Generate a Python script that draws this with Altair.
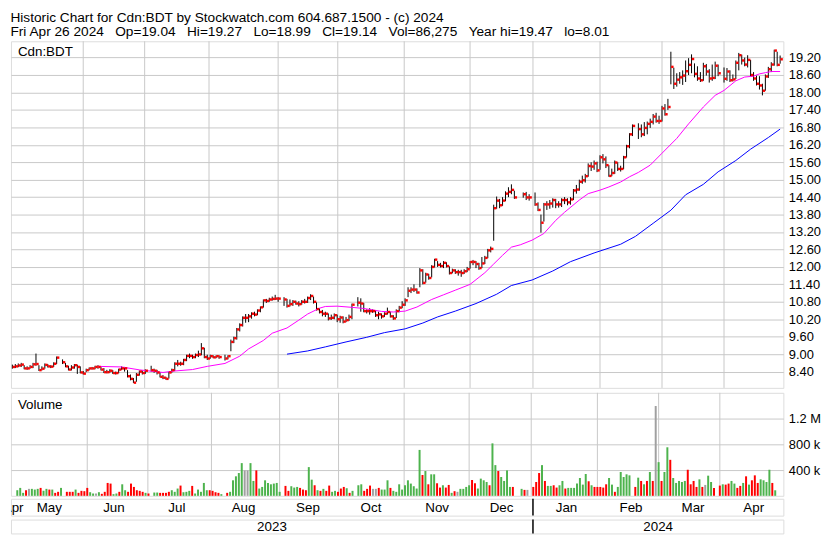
import altair as alt
import pandas as pd

FONT = "Liberation Sans"
GRID = "#C8C8C8"
GREEN, RED, GRAY = "#4DB34D", "#FF0000", "#A0A0A0"

# ---------------- calendar (weekday axis, TSX holidays leave gaps) ----------------
FIRST_DAY, LAST_DAY = "2023-04-28", "2024-04-26"
HOLIDAYS = ["2023-05-22", "2023-07-03", "2023-08-07", "2023-09-04", "2023-10-09",
            "2023-12-25", "2023-12-26", "2024-01-01", "2024-02-19", "2024-03-29"]

# ---------------- daily prices (one line per month) ----------------
close = [
    8.56, 8.58, 8.61, 8.64, 8.51, 8.51, 8.56, 8.65, 8.66, 8.45, 8.50, 8.63, 8.58, 8.57, 8.67, 8.88, 8.72, 8.58, 8.47, 8.54, 8.62, 8.56, 8.37,
    8.33, 8.45, 8.51, 8.51, 8.56, 8.56, 8.47, 8.38, 8.38, 8.43, 8.35, 8.35, 8.47, 8.51, 8.51, 8.24, 8.15, 8.02, 8.29, 8.40, 8.35, 8.43,
    8.45, 8.43, 8.37, 8.22, 8.19, 8.15, 8.37, 8.45, 8.67, 8.67, 8.67, 8.80, 8.94, 8.94, 8.90, 8.97, 8.99, 9.20, 8.90, 8.85,
    8.93, 8.89, 8.93, 8.90, 8.85, 8.93, 9.42, 9.55, 9.85, 10.00, 10.25, 10.25, 10.30, 10.39, 10.36, 10.50, 10.61, 10.85, 10.83, 10.88, 10.90, 10.91,
    10.91, 10.88, 10.66, 10.72, 10.80, 10.74, 10.72, 10.80, 10.80, 10.93, 11.00, 10.80, 10.55, 10.45, 10.39, 10.39, 10.23, 10.25, 10.34, 10.20,
    10.26, 10.12, 10.17, 10.28, 10.70, 10.77, 10.74, 10.48, 10.48, 10.48, 10.48, 10.34, 10.37, 10.30, 10.39, 10.45, 10.30, 10.23, 10.48, 10.60, 10.70,
    10.85, 11.18, 11.22, 11.22, 11.12, 11.88, 11.45, 11.74, 11.62, 12.00, 12.25, 12.07, 12.03, 12.14, 12.03, 11.79, 11.88, 11.82, 11.82, 11.79, 11.85, 11.92,
    12.17, 12.17, 12.10, 11.96, 12.12, 12.31, 12.57, 12.62, 14.02, 14.28, 14.12, 14.28, 14.52, 14.58, 14.65, 14.39, 14.50, 14.39, 14.39,
    14.15, 13.96, 13.52, 14.15, 14.15, 14.18, 14.30, 14.15, 14.15, 14.30, 14.30, 14.22, 14.32, 14.63, 14.66, 14.93, 14.98, 15.12, 15.47, 15.45, 15.56, 15.32,
    15.77, 15.70, 15.50, 15.13, 15.23, 15.59, 15.37, 15.37, 15.77, 16.15, 16.56, 16.85, 16.74, 16.56, 16.78, 16.92, 16.99, 17.17, 17.02, 17.02,
    17.45, 17.25, 17.50, 18.88, 18.30, 18.44, 18.52, 18.58, 18.73, 18.95, 19.15, 18.64, 18.48, 18.42, 18.90, 18.72, 18.48, 18.50, 18.92, 18.66,
    18.47, 18.72, 18.42, 18.45, 19.02, 19.28, 19.10, 18.96, 19.12, 18.60, 18.48, 18.30, 18.24, 18.06, 18.55, 18.80, 18.96, 19.44, 18.95, 19.14,
]
high = [
    8.64, 8.66, 8.68, 8.70, 8.62, 8.58, 8.62, 8.70, 9.02, 8.62, 8.58, 8.68, 8.66, 8.62, 8.72, 8.92, 8.82, 8.70, 8.60, 8.62, 8.66, 8.64, 8.58,
    8.42, 8.50, 8.54, 8.56, 8.60, 8.62, 8.58, 8.52, 8.46, 8.48, 8.45, 8.40, 8.50, 8.58, 8.56, 8.45, 8.30, 8.18, 8.35, 8.44, 8.44, 8.48,
    8.60, 8.50, 8.46, 8.38, 8.28, 8.22, 8.40, 8.50, 8.72, 8.80, 8.74, 8.84, 8.98, 9.02, 8.98, 9.02, 9.12, 9.38, 9.22, 8.98,
    8.98, 8.96, 8.96, 8.96, 8.98, 8.96, 9.50, 9.60, 9.90, 10.06, 10.30, 10.38, 10.38, 10.44, 10.46, 10.54, 10.64, 10.88, 10.90, 10.94, 10.98, 11.04,
    10.96, 10.96, 10.90, 10.88, 10.86, 10.84, 10.82, 10.86, 10.90, 10.98, 11.06, 10.98, 10.78, 10.58, 10.52, 10.46, 10.40, 10.36, 10.40, 10.36,
    10.32, 10.30, 10.28, 10.36, 10.74, 10.96, 10.92, 10.76, 10.54, 10.58, 10.54, 10.50, 10.46, 10.40, 10.44, 10.60, 10.46, 10.34, 10.54, 10.66, 10.82,
    10.92, 11.30, 11.30, 11.40, 11.26, 11.96, 11.92, 11.80, 11.76, 12.06, 12.28, 12.20, 12.14, 12.20, 12.16, 12.02, 11.94, 11.92, 11.90, 11.90, 11.92, 12.00,
    12.20, 12.24, 12.20, 12.14, 12.34, 12.38, 12.62, 12.70, 14.14, 14.42, 14.34, 14.40, 14.60, 14.74, 14.84, 14.62, 14.56, 14.58, 14.50,
    14.56, 14.22, 13.80, 14.20, 14.26, 14.30, 14.36, 14.34, 14.26, 14.36, 14.40, 14.36, 14.40, 14.68, 14.82, 15.00, 15.14, 15.20, 15.56, 15.60, 15.66, 15.62,
    15.84, 15.88, 15.80, 15.50, 15.38, 15.66, 15.60, 15.48, 15.82, 16.20, 16.60, 16.90, 16.94, 16.90, 16.98, 17.00, 17.10, 17.26, 17.30, 17.20,
    17.54, 17.60, 17.78, 19.40, 18.85, 18.66, 18.70, 18.76, 19.10, 19.18, 19.31, 19.00, 18.90, 18.70, 19.02, 18.98, 18.80, 18.96, 19.06, 18.96,
    18.86, 18.84, 18.76, 18.62, 19.10, 19.36, 19.30, 19.20, 19.28, 19.12, 18.70, 18.58, 18.56, 18.30, 18.62, 18.88, 19.04, 19.47, 19.40, 19.27,
]
low = [
    8.50, 8.52, 8.55, 8.56, 8.48, 8.46, 8.50, 8.52, 8.60, 8.42, 8.44, 8.50, 8.54, 8.52, 8.56, 8.66, 8.66, 8.55, 8.44, 8.44, 8.50, 8.32, 8.34,
    8.30, 8.38, 8.44, 8.47, 8.48, 8.50, 8.44, 8.35, 8.34, 8.36, 8.32, 8.30, 8.34, 8.46, 8.40, 8.20, 8.10, 8.01, 8.05, 8.26, 8.30, 8.32,
    8.40, 8.36, 8.30, 8.20, 8.14, 8.12, 8.16, 8.36, 8.42, 8.58, 8.60, 8.62, 8.76, 8.86, 8.84, 8.86, 8.90, 8.96, 8.86, 8.80,
    8.84, 8.86, 8.86, 8.84, 8.78, 8.82, 9.10, 9.38, 9.50, 9.78, 9.95, 10.08, 10.10, 10.22, 10.30, 10.34, 10.44, 10.60, 10.76, 10.80, 10.84, 10.86,
    10.80, 10.66, 10.60, 10.64, 10.66, 10.70, 10.64, 10.70, 10.74, 10.76, 10.86, 10.74, 10.50, 10.40, 10.30, 10.28, 10.16, 10.18, 10.20, 10.10,
    10.08, 10.06, 10.10, 10.14, 10.20, 10.64, 10.46, 10.44, 10.40, 10.36, 10.42, 10.28, 10.20, 10.22, 10.28, 10.36, 10.26, 10.18, 10.24, 10.44, 10.58,
    10.66, 10.96, 11.10, 11.14, 11.08, 11.30, 11.40, 11.46, 11.56, 11.64, 11.98, 12.00, 11.98, 11.96, 11.98, 11.74, 11.78, 11.76, 11.70, 11.66, 11.76, 11.82,
    11.94, 12.06, 11.96, 11.90, 11.96, 12.10, 12.30, 12.50, 12.90, 14.00, 14.02, 14.10, 14.26, 14.40, 14.50, 14.34, 14.38, 14.30, 14.28,
    14.10, 13.92, 13.18, 13.56, 13.96, 14.00, 14.04, 14.02, 14.04, 14.06, 14.16, 14.12, 14.14, 14.30, 14.52, 14.62, 14.86, 14.90, 15.10, 15.30, 15.34, 15.26,
    15.34, 15.56, 15.40, 15.10, 15.12, 15.20, 15.30, 15.28, 15.36, 15.76, 16.08, 16.50, 16.40, 16.46, 16.50, 16.56, 16.78, 16.90, 16.96, 16.92,
    17.00, 17.20, 17.40, 18.28, 18.12, 18.20, 18.30, 18.26, 18.36, 18.60, 18.66, 18.52, 18.40, 18.36, 18.40, 18.58, 18.34, 18.40, 18.46, 18.56,
    18.34, 18.40, 18.36, 18.38, 18.46, 18.76, 18.96, 18.90, 18.86, 18.54, 18.40, 18.24, 18.10, 17.90, 18.06, 18.50, 18.70, 18.92, 18.90, 18.99,
]
# daily volume in thousands of shares
volume_k = [
    87, 123, 46, 87, 108, 108, 97, 108, 123, 77, 108, 97, 97, 46, 62, 123, 62, 62, 62, 97, 46, 77, 72,
    123, 56, 36, 36, 56, 31, 62, 200, 190, 26, 36, 62, 179, 87, 62, 190, 138, 87, 77, 62, 46, 36,
    51, 51, 46, 46, 46, 62, 87, 62, 113, 159, 56, 62, 77, 154, 36, 97, 62, 200, 87, 87,
    77, 56, 46, 26, 46, 62, 241, 303, 354, 508, 395, 395, 508, 231, 395, 113, 138, 241, 200, 179, 190, 200,
    62, 154, 77, 149, 128, 138, 123, 97, 87, 446, 251, 164, 87, 77, 108, 77, 159, 62, 77, 62,
    113, 138, 118, 46, 77, 164, 179, 77, 108, 159, 108, 108, 123, 97, 97, 241, 123, 77, 62, 179, 97,
    164, 241, 190, 149, 113, 713, 323, 385, 179, 334, 334, 195, 128, 164, 128, 169, 46, 72, 62, 108, 108, 138,
    164, 246, 195, 113, 267, 241, 215, 164, 815, 477, 385, 292, 231, 395, 138, 138, 108, 92, 92,
    138, 215, 354, 477, 231, 154, 154, 164, 128, 164, 231, 113, 123, 123, 123, 190, 277, 174, 339, 226, 164, 138,
    138, 138, 128, 179, 277, 174, 62, 138, 370, 292, 334, 318, 138, 282, 231, 179, 231, 370, 231, 1395,
    523, 231, 370, 754, 559, 277, 200, 231, 215, 231, 405, 179, 231, 138, 256, 138, 169, 313, 215, 123,
    159, 179, 174, 190, 231, 190, 123, 154, 200, 303, 174, 241, 318, 200, 256, 241, 215, 405, 200, 86,
]
# volume bar colour: g = up day, r = down day, n = unchanged
vol_dir = (
    "gggrngggrggrgrrg" "rrrgrrr"
    "rggngrrrrggrggrrrrrrgr"
    "ggrrrrgggrgggrgggggr"
    "rrrg" "rgggggnnggrggggggg"
    "g" "rrgggrrr" "ggrgrgrrggr"
    "rrgrg" "ggrrrnnrgggrgggg"
    "ggggggrgrggrrgrrgrnggg"
    "grrggggrggrggggr" "grn"
    "rrrgrggrrggrgggggggrgr"
    "rrrrggrggggg" "rgrgrgrn"
    "grggrgggggrrrrgrnggr"
    "rgrrggrrgrgrrrggggrg"
)

# moving averages (weekday number, value)
pink_day = [29, 37, 43, 51, 55, 61, 66, 72, 77, 80, 85, 88, 93, 97, 100, 104, 106, 110, 115, 119, 122, 125, 129,
            133, 137, 142, 146, 150, 155, 160, 163, 166, 169, 172, 176, 180, 184, 187, 192, 195, 199, 202, 206,
            209, 212, 216, 220, 225, 229, 234, 238, 241, 245, 248, 251, 253, 255, 257, 260]
pink_val = [8.58, 8.56, 8.46, 8.37, 8.42, 8.47, 8.58, 8.68, 8.93, 9.18, 9.47, 9.72, 9.90, 10.17, 10.38, 10.58, 10.64,
            10.65, 10.61, 10.57, 10.52, 10.47, 10.45, 10.48, 10.62, 10.88, 11.04, 11.20, 11.40, 11.80, 12.10, 12.40,
            12.68, 12.76, 12.92, 13.15, 13.60, 13.88, 14.30, 14.52, 14.64, 14.75, 14.92, 15.10, 15.25, 15.50, 15.91,
            16.42, 16.92, 17.50, 17.90, 18.07, 18.40, 18.53, 18.56, 18.64, 18.68, 18.72, 18.72]
blue_day = [93, 100, 106, 113, 120, 126, 133, 139, 144, 150, 157, 164, 169, 176, 183, 189, 197, 206, 211, 217,
            223, 228, 234, 239, 245, 250, 256, 260]
blue_val = [9.00, 9.11, 9.25, 9.42, 9.58, 9.74, 9.87, 10.07, 10.28, 10.48, 10.74, 11.06, 11.36, 11.55, 11.86, 12.18,
            12.48, 12.78, 13.05, 13.50, 13.95, 14.48, 14.84, 15.27, 15.66, 16.05, 16.45, 16.74]

# axis text
price_ticks = [8.4, 9.0, 9.6, 10.2, 10.8, 11.4, 12.0, 12.6, 13.2, 13.8, 14.4, 15.0, 15.6, 16.2, 16.8, 17.4, 18.0, 18.6, 19.2]
volume_ticks = [400000, 800000, 1200000]
month_names = ["Apr", "May", "Jun", "Jul", "Aug", "Sep", "Oct", "Nov", "Dec", "Jan", "Feb", "Mar", "Apr"]
month_start = [1, 24, 44.8, 66.6, 90, 110.2, 132.7, 155, 176.3, 199, 220, 241]   # gridline positions (weekday no.)
year_names = ["2023", "2024"]
year_start = [176.3]

header = [
    "Historic Chart for Cdn:BDT by Stockwatch.com 604.687.1500 - (c) 2024",
    "\u00a0\u00a0\u00a0".join(["Fri Apr 26 2024", "Op=19.04", "Hi=19.27", "Lo=18.99", "Cl=19.14",
                               "Vol=86,275", "Year hi=19.47", "lo=8.01"]),
]

# ---------------- frames ----------------
weekdays = pd.bdate_range(FIRST_DAY, LAST_DAY)
hol = set(pd.to_datetime(HOLIDAYS))
day_pos = [k for k, d in enumerate(weekdays) if d not in hol]
assert len(day_pos) == len(close) == len(high) == len(low) == len(volume_k) == len(vol_dir)

ohlc = pd.DataFrame({"d": day_pos, "close": close, "high": high, "low": low,
                     "vol": [v * 1000 for v in volume_k], "dir": list(vol_dir)})
pink = pd.DataFrame({"d": pink_day, "v": pink_val})
blue = pd.DataFrame({"d": blue_day, "v": blue_val})

XDOM = [-0.47, 261.1]
edges = [XDOM[0]] + month_start + [XDOM[1]]
mlab = pd.DataFrame({"m": month_names, "c": [(a + b) / 2 for a, b in zip(edges[:-1], edges[1:])]})
yedges = [XDOM[0]] + year_start + [XDOM[1]]
ylab = pd.DataFrame({"y": year_names, "c": [(a + b) / 2 for a, b in zip(yedges[:-1], yedges[1:])]})
mgrid = pd.DataFrame({"pos": month_start[1:]})
ydiv = pd.DataFrame({"pos": year_start})

W, PH, VH, MH, YH = 780, 350, 104, 17, 14
xsc = alt.Scale(domain=XDOM, nice=False, zero=False)
X = lambda f: alt.X(f, scale=xsc, axis=None)

# ---------------- price panel ----------------
ysc = alt.Scale(domain=[7.84, 19.76], nice=False, zero=False)
yax = alt.Axis(orient="right", values=price_ticks, format=".2f", grid=True, gridColor=GRID, gridWidth=1,
               domain=False, ticks=False, labelPadding=5, labelFont=FONT, labelFontSize=13,
               labelColor="black", title=None)

vgrid = alt.Chart(mgrid).mark_rule(color=GRID, strokeWidth=1).encode(x=X("pos:Q"))
hl = alt.Chart(ohlc).mark_rule(color="black", strokeWidth=1).encode(
    x=X("d:Q"), y=alt.Y("low:Q", scale=ysc, axis=yax), y2="high:Q")
cl = alt.Chart(ohlc).mark_square(size=6, color=RED, opacity=1, xOffset=1.5).encode(
    x=X("d:Q"), y=alt.Y("close:Q", scale=ysc, axis=yax))
pk = alt.Chart(pink).mark_line(color="#FF00FF", strokeWidth=1).encode(
    x=X("d:Q"), y=alt.Y("v:Q", scale=ysc, axis=yax))
bl = alt.Chart(blue).mark_line(color="#0000FF", strokeWidth=1).encode(
    x=X("d:Q"), y=alt.Y("v:Q", scale=ysc, axis=yax))
plabel = alt.Chart(pd.DataFrame({"t": ["Cdn:BDT"]})).mark_text(
    align="left", baseline="alphabetic", font=FONT, fontSize=13.5, color="black").encode(
    x=alt.value(7), y=alt.value(15), text="t:N")
price = alt.layer(vgrid, hl, pk, bl, cl, plabel).properties(width=W, height=PH)

# ---------------- volume panel ----------------
vsc = alt.Scale(domain=[0, 1600000], nice=False)
vax = alt.Axis(orient="right", values=volume_ticks,
               labelExpr="datum.value >= 1000000 ? format(datum.value/1000000, '.1f') + ' M' : format(datum.value/1000, 'd') + ' k'",
               grid=True, gridColor=GRID, gridWidth=1, domain=False, ticks=False, labelPadding=5,
               labelFont=FONT, labelFontSize=13, labelColor="black", title=None)
vbars = alt.Chart(ohlc).mark_bar(size=2).encode(
    x=X("d:Q"), y=alt.Y("vol:Q", scale=vsc, axis=vax),
    color=alt.Color("dir:N", scale=alt.Scale(domain=["g", "r", "n"], range=[GREEN, RED, GRAY]), legend=None))
vlabel = alt.Chart(pd.DataFrame({"t": ["Volume"]})).mark_text(
    align="left", baseline="alphabetic", font=FONT, fontSize=13.5, color="black").encode(
    x=alt.value(7), y=alt.value(16), text="t:N")
volume = alt.layer(vgrid, vbars, vlabel).properties(width=W, height=VH)

# ---------------- date bands ----------------
divider = alt.Chart(ydiv).mark_rule(color="black", strokeWidth=1.5).encode(x=X("pos:Q"))
months = alt.layer(
    divider,
    alt.Chart(mlab).mark_text(font=FONT, fontSize=13.5, color="black", baseline="alphabetic", clip=True).encode(
        x=X("c:Q"), y=alt.value(13), text="m:N"),
).properties(width=W, height=MH)
years = alt.layer(
    divider,
    alt.Chart(ylab).mark_text(font=FONT, fontSize=13.5, color="black", baseline="alphabetic").encode(
        x=X("c:Q"), y=alt.value(12), text="y:N"),
).properties(width=W, height=YH)

chart = alt.vconcat(
    alt.vconcat(price, volume, spacing=3),
    months, years, spacing=0,
).properties(
    title=alt.TitleParams(text=header, anchor="start", font=FONT, fontSize=13.8, fontWeight="normal",
                          color="black", lineHeight=14, offset=2, baseline="top"),
    padding={"left": 2, "top": 0, "right": 0, "bottom": 1},
).configure_view(stroke="black", strokeWidth=1.5).configure(background="white", font=FONT)

chart.save("out.html", embed_options={"renderer": "svg", "actions": False})
